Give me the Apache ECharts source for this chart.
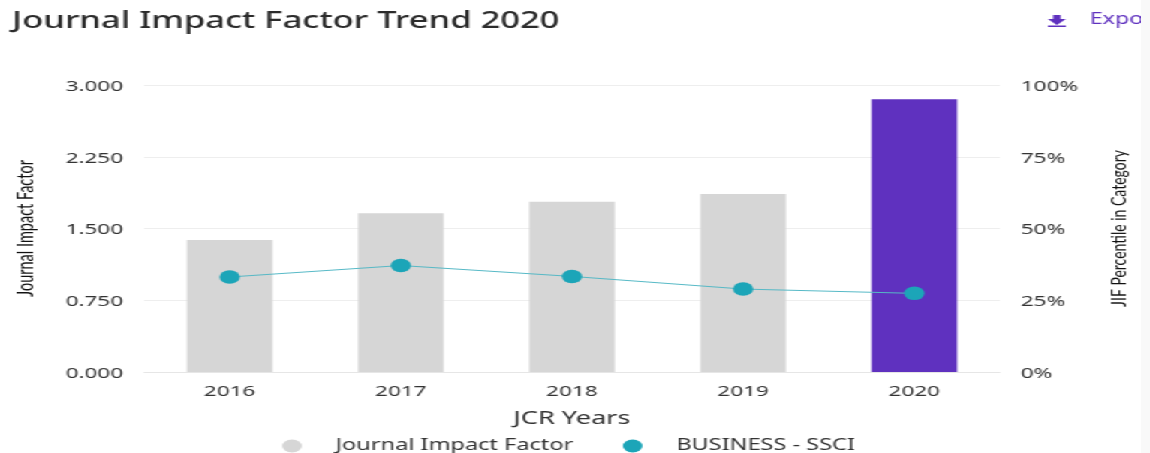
<!DOCTYPE html>
<html>
<head>
<meta charset="utf-8">
<style>
  html, body { margin: 0; height: 100%; background: #f9f9f9; overflow: hidden; }
  /* the source picture is stretched sideways, so lay out narrow and stretch */
  #chart { width: 760px; height: 453px; background: #fff; transform: scaleX(1.5013); transform-origin: 0 0; }
</style>
<script src="https://cdn.jsdelivr.net/npm/echarts@6/dist/echarts.min.js"></script>
</head>
<body>
<div id="chart"></div>
<script>
const years = ['2016', '2017', '2018', '2019', '2020'];
const impactFactor = [1.38, 1.66, 1.78, 1.86, 2.85];
const percentile = [33.1, 37.1, 33.3, 28.9, 27.4];
const highlightYear = '2020';

const font = '"Noto Sans", sans-serif';
const nameFont = 'Lato, "Noto Sans", sans-serif';

const chart = echarts.init(document.getElementById('chart'));

chart.setOption({
  animation: false,
  title: {
    text: 'Journal Impact Factor Trend 2020',
    left: 4,
    top: 5,
    padding: [5, 4],
    textStyle: { fontFamily: font, fontSize: 23, fontWeight: 500, color: '#2b2b2b' }
  },
  grid: { left: 96, right: 94, top: 85, bottom: 81, outerBoundsMode: 'none' },
  legend: {
    left: 188,
    top: 438,
    itemWidth: 14,
    itemHeight: 13,
    itemGap: 33,
    padding: 0,
    icon: 'circle',
    textStyle: { fontFamily: font, fontSize: 15.7, color: '#333', padding: [0, 0, 0, 17] },
    data: ['Journal Impact Factor', 'BUSINESS - SSCI']
  },
  xAxis: {
    type: 'category',
    data: years,
    name: 'JCR Years',
    nameLocation: 'middle',
    nameGap: 38,
    nameTextStyle: { fontFamily: font, fontSize: 18, color: '#333' },
    axisTick: { show: false },
    axisLine: { lineStyle: { color: '#e6e6e6' } },
    axisLabel: { fontFamily: font, fontSize: 15, color: '#333', margin: 12 }
  },
  yAxis: [
    {
      type: 'value',
      min: 0,
      max: 3,
      interval: 0.75,
      name: 'Journal Impact Factor',
      nameLocation: 'middle',
      nameGap: 71,
      nameTextStyle: { fontFamily: nameFont, fontSize: 14.5, color: '#111' },
      axisLabel: {
        fontFamily: font, fontSize: 15, color: '#333', margin: 14,
        verticalAlign: 'top', lineHeight: 3,
        formatter: v => v.toFixed(3)
      },
      splitLine: { lineStyle: { color: '#eeeeee' } }
    },
    {
      type: 'value',
      min: 0,
      max: 100,
      interval: 25,
      name: 'JIF Percentile in Category',
      nameLocation: 'middle',
      nameRotate: 90,
      nameGap: 72,
      nameTextStyle: { fontFamily: nameFont, fontSize: 14, color: '#111' },
      axisLabel: {
        fontFamily: font, fontSize: 15, color: '#333', margin: 14,
        verticalAlign: 'top', lineHeight: 3,
        formatter: '{value}%'
      },
      splitLine: { show: false }
    }
  ],
  series: [
    {
      name: 'Journal Impact Factor',
      type: 'bar',
      barWidth: '50%',
      itemStyle: { color: '#d6d6d6' },
      data: impactFactor.map((v, i) => years[i] === highlightYear
        ? { value: v, itemStyle: { color: '#5f31bf' } }
        : v)
    },
    {
      name: 'BUSINESS - SSCI',
      type: 'line',
      yAxisIndex: 1,
      data: percentile,
      symbol: 'circle',
      symbolSize: 13.5,
      itemStyle: { color: '#1ca5b8' },
      lineStyle: { color: '#56b9c6', width: 1 }
    }
  ],
  graphic: [
    { type: 'polygon', shape: { points: [[701.5, 15], [706.5, 15], [706.5, 19], [710, 19], [704, 25], [698, 19], [701.5, 19]] }, style: { fill: '#5f31bf' } },
    { type: 'rect', shape: { x: 698, y: 25.5, width: 12, height: 1.5 }, style: { fill: '#5f31bf' } },
    { type: 'text', x: 726, y: 12, style: { text: 'Export', fontFamily: font, fontSize: 15.5, fill: '#5f31bf' } }
  ]
});
</script>
</body>
</html>
